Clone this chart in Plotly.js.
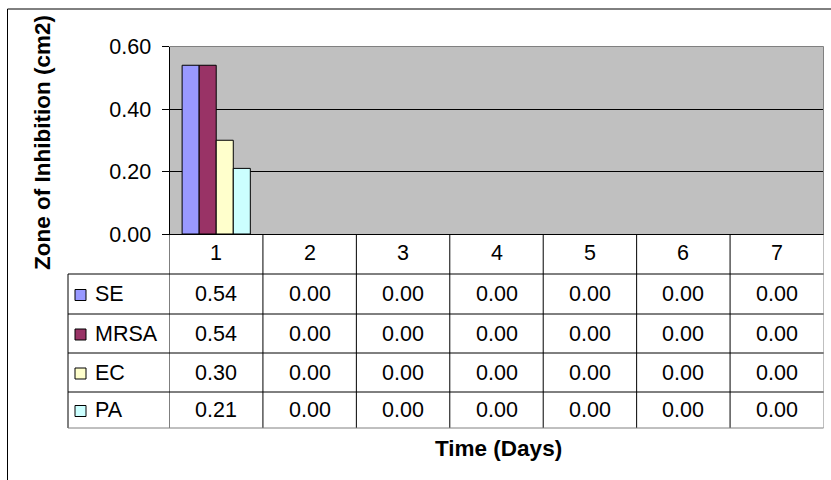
<!DOCTYPE html>
<html>
<head>
<meta charset="utf-8">
<script src="https://cdn.plot.ly/plotly-3.0.1.min.js"></script>
<style>html,body{margin:0;padding:0;background:#fff;}#chart{width:831px;height:480px;}</style>
</head>
<body>
<div id="chart"></div>
<script>
// ---- data ----
const categories = [1, 2, 3, 4, 5, 6, 7];
const seriesNames = ['SE', 'MRSA', 'EC', 'PA'];
const SE = [0.54, 0.00, 0.00, 0.00, 0.00, 0.00, 0.00];
const MRSA = [0.54, 0.00, 0.00, 0.00, 0.00, 0.00, 0.00];
const EC = [0.30, 0.00, 0.00, 0.00, 0.00, 0.00, 0.00];
const PA = [0.21, 0.00, 0.00, 0.00, 0.00, 0.00, 0.00];
const yTickVals = [0.00, 0.20, 0.40, 0.60];
const yTitle = 'Zone of Inhibition (cm2)';
const xTitle = 'Time (Days)';

// ---- styles ----
const seriesValues = [SE, MRSA, EC, PA];
const colors = ['#9999FF', '#993366', '#FFFFCC', '#CCFFFF'];
const W = 831, H = 480;
const FONT = 'Liberation Sans, Arial, sans-serif';
const TXT = 21.5, TITLE = 22.5;
const px = v => v / W;
const py = v => 1 - v / H;

const plotLeft = 169.5, plotRight = 823.5, plotTop = 46.5, plotBottom = 234;
const rowEdges = [234, 274, 314, 353, 392, 428]; // header + 4 series rows
const tableLeft = 68;

const traces = seriesNames.map((name, i) => ({
  type: 'bar',
  name: name,
  x: categories,
  y: seriesValues[i],
  marker: {color: colors[i], line: {color: '#000', width: seriesValues[i].map(v => v > 0 ? 1 : 0)}},
  hoverinfo: 'skip'
}));

const shapes = [];
const annotations = [];
const line = (x0, y0, x1, y1, xref, color) => shapes.push({
  type: 'line', xref: xref || 'paper', yref: 'paper',
  x0: x0, y0: y0, x1: x1, y1: y1,
  line: {color: color || '#000', width: 1}
});

// outer chart border (left & top)
line(px(7.5), py(9), px(7.5), py(480));
line(px(7.5), py(9), px(831), py(9));

// table vertical lines at category boundaries
categories.forEach(c => {
  line(c - 0.5, py(plotBottom), c - 0.5, py(rowEdges[rowEdges.length - 1]), 'x');
});
const lastC = categories[categories.length - 1];
line(lastC + 0.5, py(plotBottom), lastC + 0.5, py(rowEdges[rowEdges.length - 1]), 'x', '#808080');
// legend column left edge
line(px(tableLeft), py(rowEdges[1]), px(tableLeft), py(rowEdges[rowEdges.length - 1]));
// horizontal lines
for (let r = 1; r < rowEdges.length; r++) {
  line(px(tableLeft), py(rowEdges[r]), px(plotRight), py(rowEdges[r]), 'paper', r === rowEdges.length - 1 ? '#808080' : '#000');
}
// plot area top & right border (grey)
line(px(plotLeft), py(plotTop), px(plotRight), py(plotTop), 'paper', '#808080');
line(px(plotRight), py(plotTop), px(plotRight), py(plotBottom), 'paper', '#808080');

// header numbers
categories.forEach(c => annotations.push({
  xref: 'x', yref: 'paper', x: c, y: py((rowEdges[0] + rowEdges[1]) / 2 - 1),
  text: String(c), showarrow: false, xanchor: 'center', yanchor: 'middle',
  font: {family: FONT, size: TXT, color: '#000'}
}));

// series rows
seriesNames.forEach((name, i) => {
  const yc = (rowEdges[i + 1] + rowEdges[i + 2]) / 2;
  shapes.push({
    type: 'rect', xref: 'paper', yref: 'paper',
    x0: px(75), x1: px(86), y0: py(yc - 4.5), y1: py(yc + 6.5),
    fillcolor: colors[i], line: {color: '#000', width: 1}
  });
  annotations.push({
    xref: 'paper', yref: 'paper', x: px(93), y: py(yc),
    text: name, showarrow: false, xanchor: 'left', yanchor: 'middle',
    font: {family: FONT, size: TXT, color: '#000'}
  });
  seriesValues[i].forEach((v, j) => annotations.push({
    xref: 'x', yref: 'paper', x: categories[j], y: py(yc),
    text: v.toFixed(2), showarrow: false, xanchor: 'center', yanchor: 'middle',
    font: {family: FONT, size: TXT, color: '#000'}
  }));
});

// axis titles
annotations.push({
  xref: 'paper', yref: 'paper', x: px(498), y: py(448),
  text: '<b>' + xTitle + '</b>', showarrow: false, xanchor: 'center', yanchor: 'middle',
  font: {family: FONT, size: TITLE, color: '#000'}
});
annotations.push({
  xref: 'paper', yref: 'paper', x: px(43), y: py(143),
  text: '<b>' + yTitle + '</b>', showarrow: false, textangle: -90, xanchor: 'center', yanchor: 'middle',
  font: {family: FONT, size: TITLE, color: '#000'}
});

const layout = {
  width: W, height: H,
  margin: {l: 0, r: 0, t: 0, b: 0},
  paper_bgcolor: '#fff',
  plot_bgcolor: '#C0C0C0',
  showlegend: false,
  barmode: 'group',
  bargap: 0.27,
  bargroupgap: 0,
  xaxis: {
    domain: [px(plotLeft), px(plotRight)],
    range: [0.5, 7.5],
    showticklabels: false, ticks: '', showgrid: false, zeroline: false,
    showline: true, linecolor: '#000', linewidth: 1, fixedrange: true
  },
  yaxis: {
    domain: [py(plotBottom), py(plotTop)],
    range: [0, 0.6],
    tickvals: yTickVals,
    ticktext: yTickVals.map(v => v.toFixed(2)),
    ticks: 'outside', ticklen: 7, tickcolor: '#000', tickwidth: 1,
    ticklabelstandoff: 6,
    showgrid: true, gridcolor: '#000', gridwidth: 1, zeroline: false,
    showline: true, linecolor: '#000', linewidth: 1,
    tickfont: {family: FONT, size: TXT, color: '#000'},
    fixedrange: true
  },
  shapes: shapes,
  annotations: annotations,
  font: {family: FONT}
};

Plotly.newPlot('chart', traces, layout, {staticPlot: true, displayModeBar: false});
</script>
</body>
</html>
